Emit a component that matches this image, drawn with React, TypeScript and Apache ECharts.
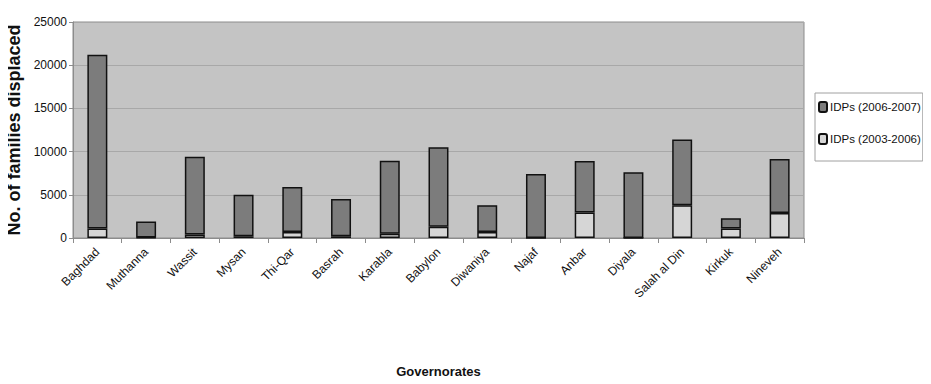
import React, { useEffect, useRef } from "react";
import * as echarts from "echarts";

const categories = [
  "Baghdad", "Muthanna", "Wassit", "Mysan", "Thi-Qar", "Basrah", "Karabla",
  "Babylon", "Diwaniya", "Najaf", "Anbar", "Diyala", "Salah al Din", "Kirkuk", "Nineveh",
];
const idps2003_2006 = [1100, 50, 400, 200, 700, 200, 500, 1300, 700, 0, 2950, 0, 3800, 1100, 2900];
const idps2006_2007 = [20100, 1850, 9000, 4800, 5200, 4300, 8450, 9200, 3100, 7400, 5950, 7600, 7600, 1180, 6250];
const yTicks = [0, 5000, 10000, 15000, 20000, 25000];

const FONT = "'Liberation Sans Narrow', 'Arial Narrow', 'Liberation Sans', Arial, sans-serif";

export default function App() {
  const ref = useRef<HTMLDivElement>(null);
  useEffect(() => {
    if (!ref.current) return;
    const chart = echarts.init(ref.current, undefined, { renderer: "svg" });
    chart.setOption({
      animation: false,
      backgroundColor: "#ffffff",
      grid: {
        left: 73, right: 127, top: 22, bottom: 146,
        outerBoundsMode: "none",
        containLabel: false,
        show: true, backgroundColor: "#c4c4c4", borderColor: "#8c8c8c", borderWidth: 1,
      },
      legend: {
        orient: "vertical",
        left: 815,
        top: 93,
        padding: [8, 2, 16, 3],
        itemGap: 20,
        itemWidth: 8,
        itemHeight: 10,
        borderColor: "#a0a0a0",
        borderWidth: 1,
        backgroundColor: "#ffffff",
        data: ["IDPs (2006-2007)", "IDPs (2003-2006)"],
        textStyle: { fontFamily: FONT, fontSize: 11.5, color: "#111", padding: [0, 0, 0, -2] },
      },
      xAxis: {
        type: "category",
        data: categories,
        name: "Governorates",
        nameLocation: "middle",
        nameGap: 127,
        nameTextStyle: { fontFamily: FONT, fontSize: 13, fontWeight: "bold", color: "#111" },
        axisLine: { lineStyle: { color: "#8c8c8c" } },
        axisTick: { show: true, length: 5, lineStyle: { color: "#8c8c8c" } },
        axisLabel: { rotate: 45, fontFamily: FONT, fontSize: 12, color: "#111", interval: 0, margin: 12 },
      },
      yAxis: {
        type: "value",
        min: 0,
        max: 25000,
        interval: 5000,
        name: "No. of families displaced",
        nameLocation: "middle",
        nameRotate: 90,
        nameGap: 50,
        nameTextStyle: { fontFamily: FONT, fontSize: 18, fontWeight: "bold", color: "#111" },
        axisLine: { show: true, lineStyle: { color: "#8c8c8c" } },
        axisTick: { show: true, length: 4, lineStyle: { color: "#8c8c8c" } },
        axisLabel: {
          fontFamily: FONT, fontSize: 12, color: "#111", margin: 6,
          formatter: (v: number) => (yTicks.includes(v) ? String(v) : ""),
        },
        splitLine: { lineStyle: { color: "#a8a8a8", width: 1 } },
      },
      series: [
        {
          name: "IDPs (2003-2006)",
          type: "bar",
          stack: "total",
          data: idps2003_2006,
          barWidth: "41%",
          itemStyle: { color: "#d6d6d6", borderColor: "#111", borderWidth: 1.5 },
        },
        {
          name: "IDPs (2006-2007)",
          type: "bar",
          stack: "total",
          data: idps2006_2007,
          barWidth: "41%",
          itemStyle: { color: "#7c7c7c", borderColor: "#111", borderWidth: 1.5 },
        },
      ],
    });
    return () => chart.dispose();
  }, []);
  return <div ref={ref} style={{ width: 931, height: 384, margin: -8 }} />;
}
